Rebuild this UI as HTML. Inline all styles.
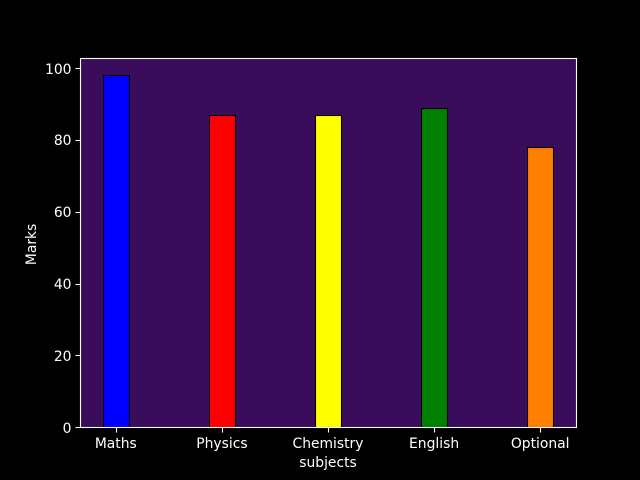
<!DOCTYPE html>
<html>
<head>
<meta charset="utf-8">
<style>
html,body{margin:0;padding:0;background:#000;width:640px;height:480px;overflow:hidden}
svg{display:block}
text{font-family:"DejaVu Sans",sans-serif;font-size:13.89px;fill:#fff}
</style>
</head>
<body>
<svg id="chart" width="640" height="480" viewBox="0 0 640 480" xmlns="http://www.w3.org/2000/svg">
<rect x="0" y="0" width="640" height="480" fill="#000"/>
<rect x="80" y="58" width="496" height="369" fill="#3a0d5c"/>
<g id="bars"></g>
<rect x="80.5" y="58.5" width="496" height="369" fill="none" stroke="#fff" stroke-width="1.1"/>
<g id="xticks"></g>
<g id="yticks"></g>
<text x="328" y="467" text-anchor="middle">subjects</text>
<text transform="translate(36,244.4) rotate(-90)" text-anchor="middle">Marks</text>
</svg>
<script>
const categories = ["Maths", "Physics", "Chemistry", "English", "Optional"];
const marks = [98, 87, 87, 89, 78];
const barColors = ["#0000ff", "#ff0000", "#ffff00", "#008000", "#ff8000"];
const yTickValues = [0, 20, 40, 60, 80, 100];

const NS = "http://www.w3.org/2000/svg";
const plotLeft = 80, plotRight = 576, plotTop = 57.6, plotBottom = 427.2;
const barWidth = 0.25;
const xMin = -barWidth / 2 - 0.05 * ((categories.length - 1) + barWidth);
const xMax = (categories.length - 1) + barWidth / 2 + 0.05 * ((categories.length - 1) + barWidth);
const yMax = Math.max(...marks) * 1.05;

function xScale(v) { return plotLeft + (v - xMin) / (xMax - xMin) * (plotRight - plotLeft); }
function yScale(v) { return plotBottom - v / yMax * (plotBottom - plotTop); }
function snap(v) { return Math.round(v) + 0.5; }
function make(tag, attrs) {
  const el = document.createElementNS(NS, tag);
  for (const k in attrs) el.setAttribute(k, attrs[k]);
  return el;
}

const barsGroup = document.getElementById("bars");
const xGroup = document.getElementById("xticks");
const yGroup = document.getElementById("yticks");

categories.forEach((name, i) => {
  const x0 = snap(xScale(i - barWidth / 2)), x1 = snap(xScale(i + barWidth / 2)), y = snap(yScale(marks[i]));
  const bar = make("rect", {x: x0, y: y, width: x1 - x0, height: snap(plotBottom) - y, fill: barColors[i], stroke: "#000", "stroke-width": 1.1});
  
  
  barsGroup.appendChild(bar);

  const cx = snap(xScale(i));
  const tick = make("line", {x1: cx, x2: cx, y1: 427.5, y2: 432.5, stroke: "#fff", "stroke-width": 1.1});
  
  
  xGroup.appendChild(tick);

  const label = make("text", {x: xScale(i), y: 448, "text-anchor": "middle"});
  
  
  label.textContent = name;
  xGroup.appendChild(label);
});

yTickValues.forEach((v) => {
  const y = snap(yScale(v));
  const tick = make("line", {x1: 75.5, x2: 80.5, y1: y, y2: y, stroke: "#fff", "stroke-width": 1.1});
  
  
  yGroup.appendChild(tick);

  const label = make("text", {x: 71.5, y: Math.round(yScale(v) + 5.5), "text-anchor": "end"});
  
  
  label.textContent = String(v);
  yGroup.appendChild(label);
});
</script>
</body>
</html>
